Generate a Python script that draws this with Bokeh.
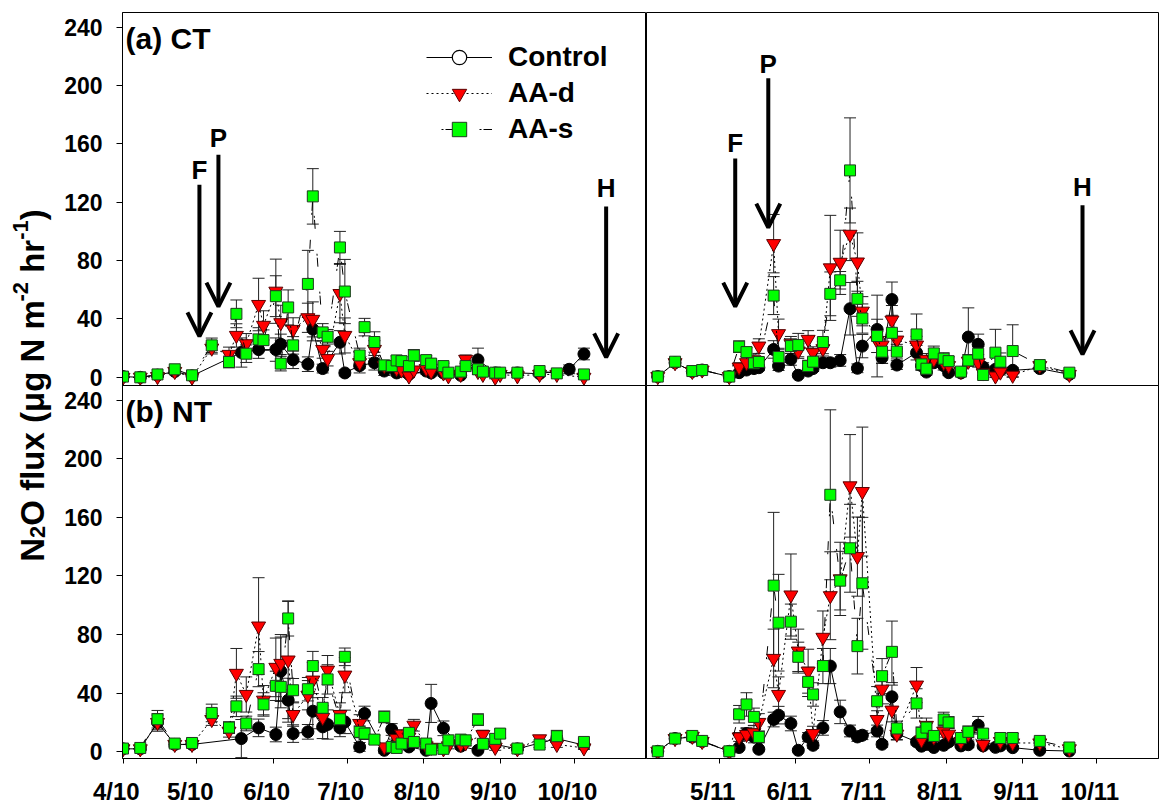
import math
from datetime import datetime

from bokeh.plotting import figure
from bokeh.models import (ColumnDataSource, Range1d, FixedTicker, Whisker, TeeHead,
                          Arrow, OpenHead, Label, Legend, LegendItem)
from bokeh.layouts import row, column
from bokeh.embed import file_html
from bokeh.resources import INLINE

FONT = "Liberation Sans"

# ---------------------------------------------------------------- data
# sampling dates, 2010 season
dates_2010 = [
    "2010-04-01", "2010-04-08", "2010-04-15", "2010-04-22", "2010-04-29", "2010-05-07",
    "2010-05-14", "2010-05-17", "2010-05-19", "2010-05-21", "2010-05-26", "2010-05-28",
    "2010-06-02", "2010-06-04", "2010-06-07", "2010-06-09", "2010-06-15", "2010-06-17",
    "2010-06-21", "2010-06-23", "2010-06-28", "2010-06-30", "2010-07-06", "2010-07-08",
    "2010-07-12", "2010-07-16", "2010-07-19", "2010-07-21", "2010-07-23", "2010-07-26",
    "2010-07-28", "2010-08-02", "2010-08-04", "2010-08-09", "2010-08-11", "2010-08-16",
    "2010-08-18", "2010-08-23", "2010-08-25", "2010-08-30", "2010-09-01", "2010-09-08",
    "2010-09-17", "2010-09-24", "2010-09-29", "2010-10-05",
]

# sampling dates, 2011 season
dates_2011 = [
    "2011-04-06", "2011-04-13", "2011-04-20", "2011-04-24", "2011-05-05", "2011-05-09",
    "2011-05-12", "2011-05-15", "2011-05-17", "2011-05-23", "2011-05-25", "2011-05-30",
    "2011-06-02", "2011-06-06", "2011-06-08", "2011-06-12", "2011-06-15", "2011-06-19",
    "2011-06-23", "2011-06-26", "2011-06-28", "2011-07-04", "2011-07-06", "2011-07-10",
    "2011-07-12", "2011-07-20", "2011-07-22", "2011-07-24", "2011-07-27", "2011-07-31",
    "2011-08-02", "2011-08-07", "2011-08-10", "2011-08-14", "2011-08-16", "2011-08-21",
    "2011-08-23", "2011-08-28", "2011-09-08", "2011-09-20",
]

# (a) CT, 2010  -- N2O flux (ug N m-2 hr-1), mean and standard error
ct10_control = [0.5, 0, 1.5, 4, 1, None, None, None, 17, None, 19, None, 19, 22.6, None, 12,
                9, 33, 6, None, 24, 3, 8, None, 10, 4.3, None, 3, None, 2, None, 4.3, 3, 3,
                None, 1.4, None, 12, None, 3, None, 3, 2.5, None, 5.5, 16]
ct10_control_se = [0.5, 0.5, 1, 1, 1, None, None, None, 10, None, 6, None, 8, 7, None, 6,
                   5, 8, 3, None, 8, 2, 5, None, 5, 3, None, 2, None, 2, None, 2, 2, 2,
                   None, 1, None, 8, None, 2, None, 2, 2, None, 3, 4]
ct10_aad = [0, 0, 0.5, 4, 0, 20, 15.7, 28.7, None, 23, 49.9, 35.6, 59, 37.4, None, 32.8,
            40.8, 39.7, 19.1, 12.8, 57.4, 28.7, 10, None, 19.1, 8, None, 6, 5, 0.9, 5, 6,
            4, 3, 1, 2, 12.3, 4, 2, 0, 2, 1, 2, 2, None, 0]
ct10_aad_se = [0.5, 0.5, 0.5, 1, 0.5, 4, 5, 8, None, 7, 18, 10, 22, 12, None, 8, 10, 12,
               6, 5, 20, 12, 4, None, 6, 3, None, 2, 2, 1, 2, 2, 2, 1, 1, 1, 3, 2, 1, 1,
               1, 1, 1, 1, None, 1]
ct10_aas = [0.5, 0, 2, 5.5, 1.4, 21.9, 10.5, 43.5, None, 16.2, 26, 25.5, 55.6, 9.4, 47.9,
            21.9, 64, 124, 30.8, 27.8, 89, 58.8, 15, 34.4, 24.2, 8.2, 7.7, 11.6, 11.1, 7.7,
            15, 11.8, 9.4, 7.7, 3.2, 3.9, 7.7, 5.5, 3.9, 3.2, 3.2, 3.2, 4.3, 2.7, None, 2]
ct10_aas_se = [0.5, 0.5, 1, 1.5, 1, 5, 4, 9.5, None, 6, 8, 7, 14, 5, 12, 6, 23, 19, 6, 5,
               11, 22, 5, 6, 7, 3, 3, 3, 3, 2, 4, 3, 2, 2, 1, 1, 2, 2, 1, 1, 1, 1, 1, 1,
               None, 1]

# (a) CT, 2011
ct11_control = [0.5, 10, 4, 5, 0.5, 3.2, 5, 6, 6.6, 19.1, 7.7, 12.3, 1.4, 4.3, 6, 10, 10,
                11.6, 47, 6.2, 21.4, 32.8, 13.5, 53.3, 8.4, 16.9, 8, 3.6, 10, 8, 3.2, 3,
                27.6, 22.6, 7, 5.5, 5, 4.8, 6, 2]
ct11_control_se = [0.5, 1, 1, 1, 0.5, 1, 2, 2, 2, 6, 3, 4, 1, 2, 2, 3, 3, 4, 18, 3, 8, 7,
                   4, 12, 3, 5, 3, 2, 3, 3, 2, 2, 20, 7, 3, 2, 2, 2, 2, 1]
ct11_aad = [0.5, 10, 4, 5, 0.5, 7, 10, 12, 21.4, 91.6, 29.9, 23, 18, 26, 16.9, 19.6, 75,
            78.8, 98, 79, 45.3, 25, 22, 39.2, 25.5, 22.1, 10, 12.3, 12.3, 10, 8, 4, 11,
            10, 3, 0.9, 3.6, 1.4, 8, 2]
ct11_aad_se = [0.5, 1, 1, 1, 0.5, 3, 4, 4, 5, 20, 10, 5, 5, 6, 4, 5, 36, 22, 18, 20, 10,
               8, 6, 10, 6, 6, 3, 4, 4, 3, 3, 2, 3, 3, 2, 1, 2, 1, 2, 1]
ct11_aas = [0.5, 10.7, 4.3, 5, 0.5, 21, 17.3, 9.6, 10.5, 56, 13.9, 21.4, 22.1, 7.7, 10.7,
            24.2, 57.2, 66.5, 141.8, 53.8, 40.3, 28.3, 17.6, 30.5, 17.6, 29.4, 8.9, 5.9,
            16.4, 12.8, 11.1, 3.9, 11.6, 16.2, 1.6, 16.9, 10.7, 18, 8.4, 3.2]
ct11_aas_se = [0.5, 1, 1, 1, 0.5, 4, 3, 3, 3, 13, 5, 5, 8, 4, 3, 8, 15, 6, 36, 12, 10, 28,
               8, 12, 5, 14, 4, 3, 5, 4, 3, 2, 4, 5, 2, 16, 6, 18, 2, 1]

# (b) NT, 2010
nt10_control = [2, 2, 20, 5, 5, None, None, None, 9, None, 16.3, None, 11.8, 55, 35.2, 12.4,
                13.6, 27.7, 17, 18.6, 16.3, 20.4, 3.3, 26.1, None, 1, 15.2, 5.8, None, 3.3,
                None, 1, 33, 16, None, 3.8, None, 1, None, 5, None, 2, None, 9, None, 4.5]
nt10_control_se = [1, 1, 6, 2, 2, None, None, None, 13, None, 6, None, 5, 25, 15, 6, 5, 12,
                   8, 10, 6, 8, 3, 5, None, 2, 4, 3, None, 2, None, 1, 13, 5, None, 2, None,
                   1, None, 2, None, 1, None, 2, None, 2]
nt10_aad = [2, 2, 20, 5, 5, 22, 14, 53.5, None, 39.1, 85.8, 35.2, 57.6, 60.3, 62.6, 25.4,
            38.6, 48.9, 23.4, 55.7, 25.4, 52.3, 19.3, None, None, 3.3, None, 9, 12, 10,
            18.1, 4, 3, 2, 4, 5, 6, None, 11.7, 3, None, 2, 8.8, 5, None, 2.6]
nt10_aad_se = [1, 1, 5, 2, 2, 4, 4, 17, None, 12, 33, 10, 20, 18, 40, 8, 10, 12, 8, 10, 8,
               12, 6, None, None, 2, None, 3, 3, 3, 4, 2, 2, 1, 2, 2, 2, None, 3, 2, None,
               1, 2, 2, None, 1]
nt10_aas = [2.2, 2.6, 22.2, 5.6, 6, 26.5, 16.5, 31, None, 19.3, 56.4, 32.3, 45, 44.3, 91,
            42, 42.7, 58.5, 30, 49.4, 22.2, 64.8, 13.6, 12.4, 8.3, 23.8, 3.3, 2.6, 5.6,
            12.9, 6.7, 5.6, 1.5, 2, 7.8, 8.3, 7.8, 21.9, 5.4, 8.8, 12.4, 2.2, 4.9, 10.6,
            None, 6.7]
nt10_aas_se = [1, 1, 6, 2, 2, 6, 4, 7, None, 5, 12, 8, 10, 10, 12, 8, 8, 10, 7, 10, 6, 6,
               4, 4, 3, 4, 2, 2, 2, 3, 2, 2, 1, 1, 2, 2, 2, 4, 2, 3, 3, 1, 2, 4, None, 2]

# (b) NT, 2011
nt11_control = [0.3, 9, 10, 7, 0.3, 2.9, 12.4, 10.1, 1.7, 22, 25, 19.3, 1, 10.1, 4.4, 16.3,
                58.5, 27.2, 14.2, 10.1, 11.3, 14.2, 5.1, 37.5, 12.4, 6.7, 3.8, 5, 2.9, 4.4,
                6.7, 4, 4.8, 18.1, 4, 3, 4, 2.8, 1, 0.5]
nt11_control_se = [0.5, 1, 2, 1, 0.5, 1, 4, 4, 1, 5, 6, 5, 1, 3, 2, 5, 12, 8, 4, 3, 3, 4,
                   2, 8, 4, 2, 1, 2, 1, 2, 2, 1, 2, 6, 2, 1, 2, 1, 1, 1]
nt11_aad = [0.3, 9, 10.5, 7, 0.3, 10.1, 11.8, 13, 20, 63.7, 39.1, 107, 68.7, 55, 12.4,
            78.1, 106.5, 118, 181.5, 133.2, 177.6, 22, 42.7, 28.4, 12, 45.5, 8, 18, 10, 14,
            12, 7, 12, None, 5, None, 7, 6, 6, 2]
nt11_aad_se = [0.5, 1, 2, 1, 0.5, 3, 4, 5, 6, 20, 12, 28, 15, 15, 5, 18, 30, 25, 35, 27,
               44, 6, 10, 8, 4, 12, 3, 5, 3, 4, 4, 2, 4, None, 2, None, 2, 2, 2, 1]
nt11_aas = [0.3, 9, 10.8, 7.4, 0.3, 25.6, 32.3, 23.8, 10.1, 113.4, 88.1, 88.8, 64.8, 47.7,
            39.1, 58.5, 175.4, 116.8, 138.9, 72.1, 115, 34.5, 51.6, 68.2, 15.9, 33, 12.9,
            16.5, 10.8, 22, 20, 9.4, 13.6, None, 12.4, None, 9.4, 9.4, 7.4, 2.9]
nt11_aas_se = [0.5, 1, 2, 1, 0.5, 6, 8, 6, 4, 50, 33, 12, 10, 10, 8, 12, 58, 20, 30, 19,
               45, 10, 12, 21, 5, 10, 4, 4, 3, 5, 4, 3, 4, None, 3, None, 3, 3, 2, 1]

# management events: fertilization (F), planting (P), harvest (H)
events_2010 = ["F", "P", "H"]
event_dates_2010 = ["2010-05-02 00:00", "2010-05-09 17:00", "2010-10-14 00:00"]
events_2011 = ["F", "P", "H"]
event_dates_2011 = ["2011-05-07 10:00", "2011-05-20 20:00", "2011-09-25 08:00"]

# axis ticks
y_ticks = [0, 40, 80, 120, 160, 200, 240]
x_ticks_2010 = ["2010-04-01", "2010-05-01", "2010-06-01", "2010-07-01", "2010-08-01",
                "2010-09-01", "2010-10-01"]
x_labels_2010 = ["4/10", "5/10", "6/10", "7/10", "8/10", "9/10", "10/10"]
x_ticks_2011 = ["2011-05-01", "2011-06-01", "2011-07-01", "2011-08-01", "2011-09-01",
                "2011-10-01"]
x_labels_2011 = ["5/11", "6/11", "7/11", "8/11", "9/11", "10/11"]

series_names = ["Control", "AA-d", "AA-s"]

# ---------------------------------------------------------------- helpers
EPOCH = datetime(1970, 1, 1)


def ms(s):
    fmt = "%Y-%m-%d %H:%M" if " " in s else "%Y-%m-%d"
    return (datetime.strptime(s, fmt) - EPOCH).total_seconds() * 1000.0


STYLES = {
    "Control": dict(marker="circle", size=12, fill="#000000", line="#000000",
                    dash="solid", offset=0),
    "AA-d": dict(marker="inverted_triangle", size=14, fill="#ff0000", line="#5a0000",
                 dash="2 3", offset=0),
    "AA-s": dict(marker="square", size=11, fill="#00ff00", line="#1e3c1e",
                 dash="2 2 9 25", offset=23),
}

Y_TOP = 250
Y_MIN_UPPER = -5.6
Y_MIN_LOWER = -4.6
FRAME_H = 373
LEFT_W = 524
RIGHT_W = 512
LABEL_W = 56
AXIS_W = 122 - LABEL_W
OVERLAP = 14   # room below the upper panels for their "0" tick label
LABEL_PAD = "\u00a0\u00a0"   # date labels sit slightly left of their tick


def make_panel(x_start, x_end, frame_w, y_min, left, right, top, bottom, show_y,
               xticks=None, xlabels=None, transparent=False):
    p = figure(frame_width=frame_w, frame_height=FRAME_H,
               x_range=Range1d(ms(x_start), ms(x_end)), y_range=Range1d(y_min, Y_TOP),
               min_border_left=left, min_border_right=right, min_border_top=top,
               min_border_bottom=bottom, toolbar_location=None, output_backend="svg",
               x_axis_location="below" if xticks else None,
               y_axis_location="left" if show_y else None,
               outline_line_color="black", outline_line_width=1,
               background_fill_color="white", border_fill_color="white")
    if transparent:
        p.background_fill_alpha = 0
        p.border_fill_alpha = 0
    p.grid.visible = False
    for ax in p.yaxis:
        ax.ticker = FixedTicker(ticks=y_ticks)
        ax.major_label_text_font = FONT
        ax.major_label_text_font_style = "bold"
        ax.major_label_text_font_size = "23px"
        ax.major_label_text_color = "black"
        ax.major_tick_out = 6
        ax.major_tick_in = 0
        ax.minor_tick_line_color = None
        ax.axis_line_color = "black"
        ax.major_tick_line_color = "black"
        ax.major_label_standoff = 14
    if xticks:
        tick_ms = [ms(t) for t in xticks]
        for ax in p.xaxis:
            ax.ticker = FixedTicker(ticks=tick_ms)
            ax.major_label_overrides = {int(t): lab + LABEL_PAD
                                        for t, lab in zip(tick_ms, xlabels)}
            ax.major_label_text_font = FONT
            ax.major_label_text_font_style = "bold"
            ax.major_label_text_font_size = "24px"
            ax.major_label_text_color = "black"
            ax.major_tick_out = 5
            ax.major_tick_in = 0
            ax.minor_tick_line_color = None
            ax.axis_line_color = "black"
            ax.major_tick_line_color = "black"
            ax.major_label_standoff = 14
    return p


def draw_series(p, dates, values, errors, name, y_min):
    st = STYLES[name]
    xs, ys, lo, hi = [], [], [], []
    for d, v, e in zip(dates, values, errors):
        if v is None:
            continue
        xs.append(ms(d))
        ys.append(v)
        lo.append(max(v - e, y_min + 0.5))
        hi.append(v + e)
    src = ColumnDataSource(dict(x=xs, y=ys, lower=lo, upper=hi))
    bars = Whisker(source=src, base="x", upper="upper", lower="lower",
                   line_color="#222222", line_width=1, level="underlay",
                   upper_head=TeeHead(size=12, line_color="#222222", line_width=1),
                   lower_head=TeeHead(size=12, line_color="#222222", line_width=1))
    p.add_layout(bars)
    ln = p.line("x", "y", source=src, line_color="black", line_width=1,
                line_dash=st["dash"], line_dash_offset=st["offset"])
    sc = p.scatter("x", "y", source=src, marker=st["marker"], size=st["size"],
                   fill_color=st["fill"], line_color=st["line"], line_width=1)
    return ln, sc


def draw_events(p, names, dates, tips, tails, label_ys):
    for n, d, tip, tail, ly in zip(names, dates, tips, tails, label_ys):
        x = ms(d)
        p.add_layout(Arrow(x_start=x, y_start=tail, x_end=x, y_end=tip,
                           line_color="black", line_width=4,
                           end=OpenHead(size=24, line_color="black", line_width=4)))
        p.add_layout(Label(x=x, y=ly, text=n, text_font=FONT, text_font_style="bold",
                           text_font_size="26px", text_align="center",
                           text_baseline="middle", text_color="black"))


def panel_title(p, x, y, text):
    p.add_layout(Label(x=ms(x), y=y, text=text, text_font=FONT, text_font_style="bold",
                       text_font_size="30px", text_align="left", text_baseline="middle",
                       text_color="black"))


X2010 = ("2010-03-31 19:00", "2010-10-30 09:00")
X2011 = ("2011-04-01 10:00", "2011-10-26 04:00")

# ---------------------------------------------------------------- panels
p_ct10 = make_panel(*X2010, LEFT_W, Y_MIN_UPPER, AXIS_W, 0, 12, OVERLAP, True)
p_ct11 = make_panel(*X2011, RIGHT_W, Y_MIN_UPPER, 0, 2, 12, OVERLAP, False)
p_nt10 = make_panel(*X2010, LEFT_W, Y_MIN_LOWER, AXIS_W, 0, 0, 47, True,
                    x_ticks_2010, x_labels_2010, transparent=True)
p_nt11 = make_panel(*X2011, RIGHT_W, Y_MIN_LOWER, 0, 2, 0, 47, False,
                    x_ticks_2011, x_labels_2011, transparent=True)

panel_data = [
    (p_ct10, Y_MIN_UPPER, dates_2010, [(ct10_control, ct10_control_se),
                                       (ct10_aad, ct10_aad_se), (ct10_aas, ct10_aas_se)]),
    (p_ct11, Y_MIN_UPPER, dates_2011, [(ct11_control, ct11_control_se),
                                       (ct11_aad, ct11_aad_se), (ct11_aas, ct11_aas_se)]),
    (p_nt10, Y_MIN_LOWER, dates_2010, [(nt10_control, nt10_control_se),
                                       (nt10_aad, nt10_aad_se), (nt10_aas, nt10_aas_se)]),
    (p_nt11, Y_MIN_LOWER, dates_2011, [(nt11_control, nt11_control_se),
                                       (nt11_aad, nt11_aad_se), (nt11_aas, nt11_aas_se)]),
]

legend_renderers = {}
for p, y_min, dates, series in panel_data:
    for name, (vals, errs) in zip(series_names, series):
        r = draw_series(p, dates, vals, errs, name, y_min)
        if p is p_ct10:
            legend_renderers[name] = list(r)

# the legend key for the control shows an open circle; this renderer holds no
# plottable point, it only supplies that key symbol
key_src = ColumnDataSource(dict(x=[float("nan")], y=[float("nan")]))
ctl_key = p_ct10.scatter("x", "y", source=key_src, marker="circle", size=12,
                         fill_color="white", line_color="black", line_width=1.2)
legend_renderers["Control"] = [legend_renderers["Control"][0], ctl_key]

legend = Legend(items=[LegendItem(label=n, renderers=legend_renderers[n])
                       for n in series_names],
                location=(304, 238), glyph_width=66, glyph_height=36, label_height=36,
                label_standoff=16, spacing=0, padding=0, margin=0,
                border_line_color=None, background_fill_alpha=0,
                label_text_font=FONT, label_text_font_style="bold",
                label_text_font_size="28px", label_text_color="black")
p_ct10.add_layout(legend)

draw_events(p_ct10, events_2010, event_dates_2010, [28, 48.5, 13.7], [132, 152.5, 117],
            [142, 164, 130])
draw_events(p_ct11, events_2011, event_dates_2011, [48.5, 102.6, 15.7], [150, 205, 118],
            [160.7, 215, 130.6])

panel_title(p_ct10, "2010-04-02", 232, "(a) CT")
panel_title(p_nt10, "2010-04-02", 232, "(b) NT")

# shared y-axis title, set piece by piece so the sub/superscripts are smaller
lab = figure(width=LABEL_W, height=805, x_range=Range1d(0, LABEL_W), y_range=Range1d(0, 805),
             min_border=0, toolbar_location=None, output_backend="svg",
             x_axis_location=None, y_axis_location=None, outline_line_color=None)
lab.grid.visible = False

BIG, SMALL = 33, 22
# (text, font size, baseline shift, advance in em/1000 of Arial Bold)
title_pieces = [
    ("N", BIG, 0, 722),
    ("2", SMALL, 5, 556),
    ("O flux (\u03bcg N m", BIG, 0, 6790),
    ("-2", SMALL, -12, 889),
    (None, BIG, 0, 278),          # word space
    ("hr", BIG, 0, 1000),
    ("-1", SMALL, -12, 889),
    (")", BIG, 0, 333),
]
total = sum(size * adv / 1000.0 for _, size, _, adv in title_pieces)
pos = 420 - total / 2.0
BASE_X = 32
for text, size, shift, adv in title_pieces:
    if text is not None:
        lab.add_layout(Label(x=BASE_X + shift, y=pos, text=text, angle=math.pi / 2,
                             text_font=FONT, text_font_style="bold",
                             text_font_size=f"{size}px", text_align="left",
                             text_baseline="alphabetic", text_color="black"))
    pos += size * adv / 1000.0

# the lower row is pulled up over the extra room left below the upper panels
upper = row(p_ct10, p_ct11)
lower = row(p_nt10, p_nt11, styles={"margin-top": f"-{OVERLAP}px"})
layout = row(lab, column(upper, lower))

open("out.html", "w").write(file_html(layout, INLINE))
